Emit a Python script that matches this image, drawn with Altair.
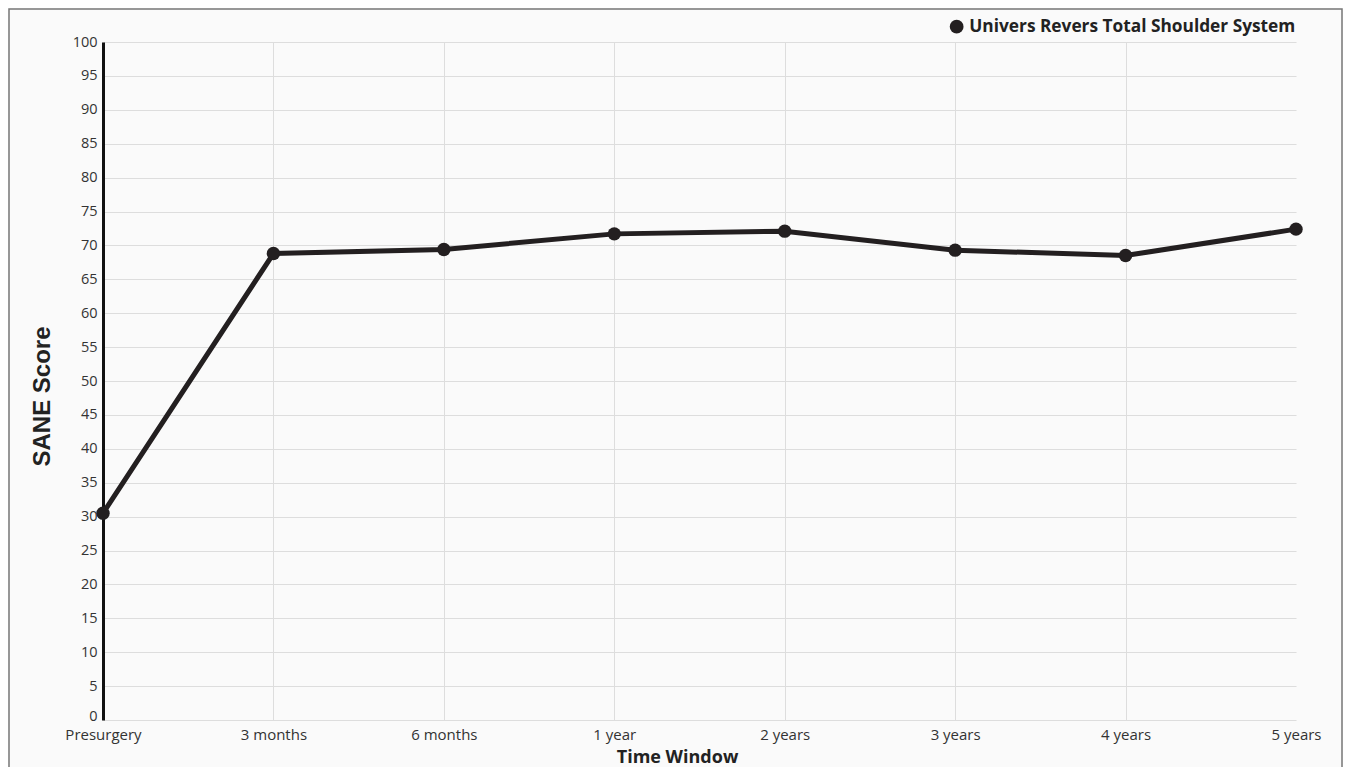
import altair as alt
import pandas as pd

categories = ["Presurgery", "3 months", "6 months", "1 year", "2 years", "3 years", "4 years", "5 years"]
sane_scores = [30.5, 68.8, 69.4, 71.7, 72.1, 69.3, 68.5, 72.4]
series_name = "Univers Revers Total Shoulder System"
y_ticks = list(range(0, 101, 5))

df = pd.DataFrame({"window": categories, "score": sane_scores, "series": [series_name] * len(categories)})

W, H = 1193, 678
PAD_L, PAD_T, PAD_R, PAD_B = 95, 34, 47, 47
DARK = "#231f20"
FONT = "Open Sans"

x_enc = alt.X(
    "window:N",
    sort=categories,
    scale=alt.Scale(type="point", padding=0),
    axis=alt.Axis(
        title="Time Window",
        labelAngle=0,
        labelFont=FONT,
        labelFontSize=15,
        labelColor="#333333",
        labelPadding=7,
        ticks=False,
        domain=False,
        grid=True,
        gridColor={"condition": {"test": "datum.value == '5 years'", "value": "transparent"}, "value": "#dddddd"},
        titleFont=FONT,
        titleFontSize=18,
        titleFontWeight="bold",
        titleColor="#222222",
        titleX=574,
        titleY=37,
        titleBaseline="middle",
    ),
)
y_enc = alt.Y(
    "score:Q",
    scale=alt.Scale(domain=[0, 100], nice=False, zero=True),
    axis=alt.Axis(
        title="SANE Score",
        values=y_ticks,
        labelFont=FONT,
        labelFontSize=14.5,
        labelColor="#333333",
        labelPadding=6,
        labelBaseline={"condition": {"test": "datum.value == 0", "value": "alphabetic"}, "value": "middle"},
        ticks=False,
        domain=True,
        domainColor="#111111",
        domainWidth=3,
        grid=True,
        gridColor="#dddddd",
        titleFont="Liberation Sans",
        titleFontSize=24,
        titleFontWeight="bold",
        titleColor="#222222",
        titleX=-61,
        titleY=354,
        titleBaseline="middle",
    ),
)

border = alt.Chart(pd.DataFrame({"a": [0]})).mark_rect(
    fill="transparent", stroke="#777777", strokeWidth=1.5, clip=False
).encode(
    x=alt.value(-PAD_L + 1),
    x2=alt.value(W + PAD_R - 1),
    y=alt.value(-PAD_T + 1),
    y2=alt.value(H + PAD_B + 10),
)

line = alt.Chart(df).mark_line(color=DARK, strokeWidth=5).encode(x=x_enc, y=y_enc)

points = alt.Chart(df).mark_point(filled=True, size=180, opacity=1).encode(
    x=x_enc,
    y=y_enc,
    color=alt.Color(
        "series:N",
        scale=alt.Scale(range=[DARK]),
        legend=alt.Legend(
            title=None,
            orient="none",
            legendX=845,
            legendY=-24,
            symbolType="circle",
            symbolSize=190,
            symbolFillColor=DARK,
            symbolStrokeWidth=0,
            labelFont=FONT,
            labelFontSize=17.3,
            labelFontWeight="bold",
            labelColor="#222222",
            labelLimit=0,
            labelOffset=4,
        ),
    ),
)

chart = alt.layer(border, line, points).properties(
    width=W,
    height=H,
    background="#fafafa",
    padding={"left": PAD_L, "top": PAD_T, "right": PAD_R, "bottom": PAD_B},
    autosize=alt.AutoSizeParams(type="none"),
).configure_view(stroke=None)

chart.save("out.html", embed_options={"renderer": "svg", "actions": False})
